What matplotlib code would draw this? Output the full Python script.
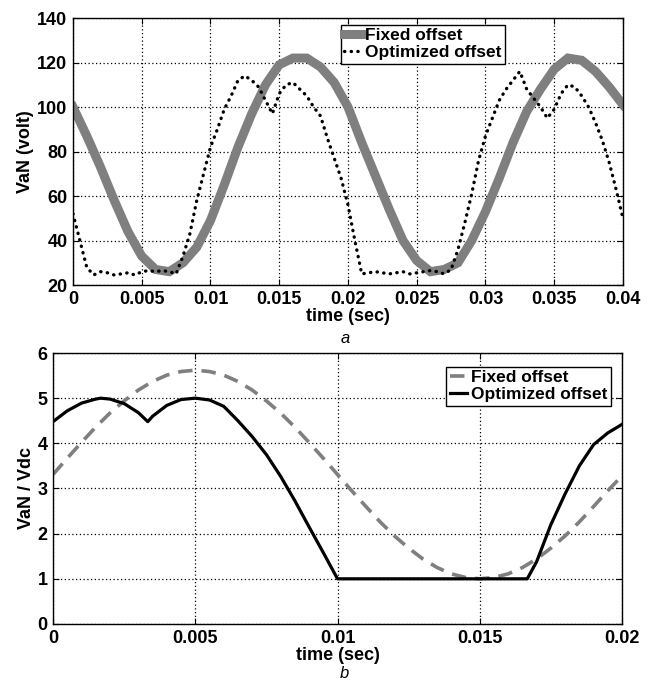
import numpy as np
import matplotlib
matplotlib.use("Agg")
import matplotlib.pyplot as plt

plt.rcParams['font.family'] = ['Liberation Sans', 'DejaVu Sans']
plt.rcParams['font.weight'] = 'bold'
plt.rcParams['axes.labelweight'] = 'bold'
plt.rcParams['font.size'] = 13

# TOP PANEL DATA (a)
t_fixed_a = [i * 0.001 for i in range(41)]
v_fixed_a = [100, 87, 73, 58, 44, 33, 27, 26, 30, 37, 49, 65, 82, 97, 110, 119, 122, 122, 118, 111,
             100, 84, 69, 54, 40, 31, 26, 27, 30, 40, 53, 68, 84, 98, 108, 117, 122, 121, 116, 109, 101]

t_opt_a = [i * 0.0005 for i in range(81)]
v_opt_a = [52, 40, 28, 24.5, 26, 25.5, 24.5, 25, 25.5, 24.5, 26, 26.5, 26, 26.5, 26, 25,
           33, 43, 58, 70, 82, 90, 99, 105, 112, 114, 112, 109, 103, 97, 106, 110, 111, 108,
           105, 100, 96, 86, 77, 68,
           56, 40, 25, 25.5, 26, 25.5, 25, 25.5, 26, 25, 25.5, 26, 26.5, 26, 25, 27,
           36, 48, 61, 76, 87, 95, 103, 108, 112, 116, 108, 104, 100, 95, 99, 106, 110, 109,
           105, 100, 93, 85, 75, 63, 50]

# BOTTOM PANEL DATA (b)
t_fixed_b = [i * 0.0005 for i in range(41)]
v_fixed_b = [3.31, 3.67, 4.02, 4.36, 4.67, 4.94, 5.18, 5.37, 5.51, 5.59, 5.62, 5.59, 5.51, 5.37,
             5.18, 4.94, 4.67, 4.36, 4.02, 3.67, 3.31, 2.95, 2.60, 2.26, 1.95, 1.68, 1.44, 1.25,
             1.11, 1.03, 1.00, 1.03, 1.11, 1.25, 1.44, 1.68, 1.95, 2.26, 2.60, 2.95, 3.28]

t_opt_b = [0, 0.0005, 0.001, 0.0015, 0.00167, 0.002, 0.0025, 0.003, 0.00333, 0.0035, 0.004,
           0.0045, 0.005, 0.0055, 0.006, 0.0065, 0.007, 0.0075, 0.008, 0.0085, 0.009, 0.0095,
           0.01, 0.01667, 0.017, 0.0175, 0.018, 0.0185, 0.019, 0.0195, 0.02]
v_opt_b = [4.48, 4.72, 4.89, 4.98, 5.0, 4.98, 4.88, 4.68, 4.48, 4.6, 4.84, 4.97, 5.0, 4.96,
           4.82, 4.5, 4.15, 3.75, 3.27, 2.73, 2.15, 1.58, 1.0, 1.0, 1.38, 2.2, 2.88, 3.5,
           3.97, 4.23, 4.42]

xt_a = [0, 0.005, 0.01, 0.015, 0.02, 0.025, 0.03, 0.035, 0.04]
xl_a = ["0", "0.005", "0.01", "0.015", "0.02", "0.025", "0.03", "0.035", "0.04"]
yt_a = [20, 40, 60, 80, 100, 120, 140]
xt_b = [0, 0.005, 0.01, 0.015, 0.02]
xl_b = ["0", "0.005", "0.01", "0.015", "0.02"]
yt_b = [0, 1, 2, 3, 4, 5, 6]

gray = "#7f7f7f"

fig = plt.figure(figsize=(6.53, 6.93), dpi=100)
ax1 = fig.add_axes([0.1118, 0.5887, 0.8422, 0.3853])
ax2 = fig.add_axes([0.0812, 0.0996, 0.8713, 0.391])


def style(ax):
    ax.grid(True, color="black", linestyle=(0, (1, 2)), linewidth=0.9)
    ax.tick_params(direction="in", length=4, width=0.8, top=True, right=True, pad=4)
    for lab in ax.get_xticklabels() + ax.get_yticklabels():
        lab.set_fontweight("bold")
    for s in ax.spines.values():
        s.set_linewidth(1.0)
    ax.set_axisbelow(True)


# top panel
ax1.plot(t_fixed_a, v_fixed_a, color=gray, linewidth=6.5, label="Fixed offset",
         solid_joinstyle="miter")
ax1.plot(t_opt_a, v_opt_a, color="black", linewidth=2.4, linestyle=(0, (0.1, 1.9)),
         dash_capstyle="round", label="Optimized offset")
ax1.set_xlim(0, 0.04)
ax1.set_ylim(20, 140)
ax1.set_xticks(xt_a)
ax1.set_xticklabels(xl_a)
ax1.set_yticks(yt_a)
style(ax1)
ax1.set_xlabel("time (sec)", labelpad=0, fontweight="bold")
ax1.set_ylabel("VaN (volt)", labelpad=2, fontweight="bold")
leg1 = ax1.legend(loc="upper left", bbox_to_anchor=(0.487, 0.975), handlelength=1.0,
                  handletextpad=0.2, borderpad=0.2, labelspacing=0.1, borderaxespad=0,
                  fancybox=False, framealpha=1, edgecolor="black",
                  prop={"weight": "bold", "size": 12.5})
leg1.get_frame().set_linewidth(1.0)

# bottom panel
ax2.plot(t_fixed_b, v_fixed_b, color=gray, linewidth=2.6, linestyle=(0, (4, 2.5)),
         label="Fixed offset")
ax2.plot(t_opt_b, v_opt_b, color="black", linewidth=2.3, label="Optimized offset")
ax2.set_xlim(0, 0.02)
ax2.set_ylim(0, 6)
ax2.set_xticks(xt_b)
ax2.set_xticklabels(xl_b)
ax2.set_yticks(yt_b)
style(ax2)
ax2.set_xlabel("time (sec)", labelpad=0, fontweight="bold")
ax2.set_ylabel("VaN / Vdc", labelpad=2, fontweight="bold")
leg2 = ax2.legend(loc="upper right", bbox_to_anchor=(0.98, 0.95), handlelength=1.0,
                  handletextpad=0.2, borderpad=0.2, labelspacing=0.1, borderaxespad=0,
                  fancybox=False, framealpha=1, edgecolor="black",
                  prop={"weight": "bold", "size": 12.5})
leg2.get_frame().set_linewidth(1.0)

fig.text(0.528, 0.505, "a", fontsize=12, style="italic", fontweight="normal", ha="center")
fig.text(0.528, 0.021, "b", fontsize=12, style="italic", fontweight="normal", ha="center")

fig.savefig("out.png", dpi=100)
